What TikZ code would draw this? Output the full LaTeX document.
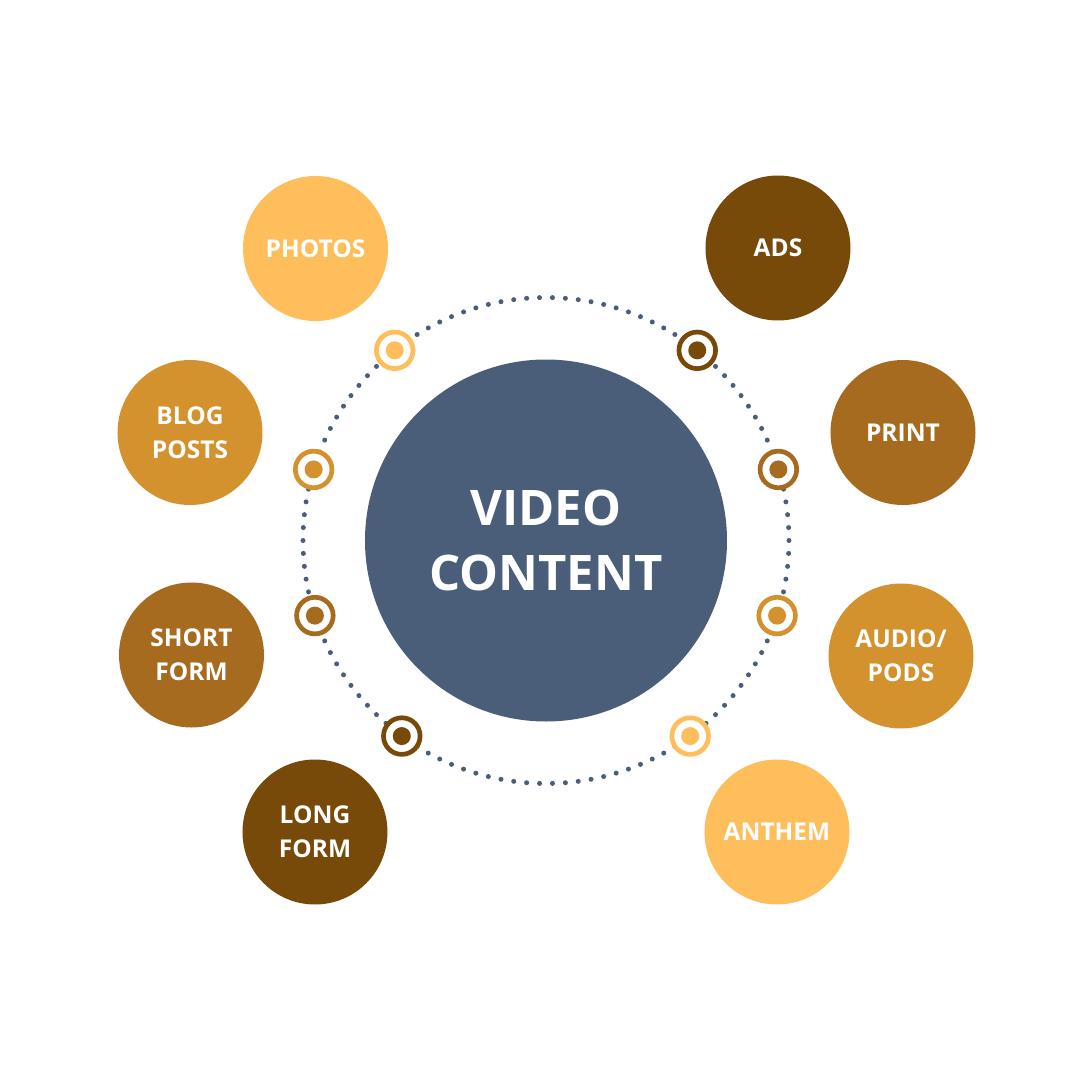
\documentclass[tikz,border=0pt]{standalone}
\usepackage{fontspec}
\setmainfont{Open Sans}

\definecolor{hubblue}{HTML}{4A5D79}
\definecolor{sand}{HTML}{FEBE5B}
\definecolor{ochre}{HTML}{D4922F}
\definecolor{bronze}{HTML}{A66B1F}
\definecolor{umber}{HTML}{774A09}

\begin{document}
\begin{tikzpicture}[x=1pt,y=1pt,
  every node/.style={circle,inner sep=0pt},
  topic/.style={fill=#1,minimum size=145,text=white,align=center,
    font=\bfseries\fontsize{24.5}{34}\selectfont},
  ringmark/.style={draw=#1,fill=white,line width=4.7,minimum size=36.6},
  ringdot/.style={fill=#1,minimum size=18}]
\useasboundingbox (-546,-539.5) rectangle (534,540.5);
% dotted ring
\foreach \k in {0,...,117}
  \fill[hubblue] ({360/118*\k}:243) circle (2.5);
% hub
\node[fill=hubblue,minimum size=362,text=white,align=center,
  font=\bfseries\fontsize{49}{65}\selectfont] (hub) at (0,0) {VIDEO\\CONTENT};
% markers on the ring
\node[ringmark=sand]   (m1) at (128.5:243) {};
\node[ringmark=ochre]  (m2) at (163:243)   {};
\node[ringmark=bronze] (m3) at (198:243)   {};
\node[ringmark=umber]  (m4) at (233.6:243) {};
\node[ringmark=umber]  (m5) at (51.5:243)  {};
\node[ringmark=bronze] (m6) at (17:243)    {};
\node[ringmark=ochre]  (m7) at (-18:243)   {};
\node[ringmark=sand]   (m8) at (-53.6:243) {};
\node[ringdot=sand]   at (m1) {};
\node[ringdot=ochre]  at (m2) {};
\node[ringdot=bronze] at (m3) {};
\node[ringdot=umber]  at (m4) {};
\node[ringdot=umber]  at (m5) {};
\node[ringdot=bronze] at (m6) {};
\node[ringdot=ochre]  at (m7) {};
\node[ringdot=sand]   at (m8) {};
% topics
\node[topic=sand]   (photos) at (-230.5,292)   {PHOTOS};
\node[topic=ochre]  (blog)   at (-356,108)     {BLOG\\POSTS};
\node[topic=bronze] (short)  at (-354.5,-114.5) {SHORT\\FORM};
\node[topic=umber]  (long)   at (-231,-291.5)  {LONG\\FORM};
\node[topic=umber]  (ads)    at (232,292.5)    {ADS};
\node[topic=bronze] (print)  at (357,108)      {PRINT};
\node[topic=ochre]  (audio)  at (355,-115.5)   {AUDIO/\\PODS};
\node[topic=sand]   (anthem) at (231,-291.5)   {ANTHEM};
\end{tikzpicture}
\end{document}
